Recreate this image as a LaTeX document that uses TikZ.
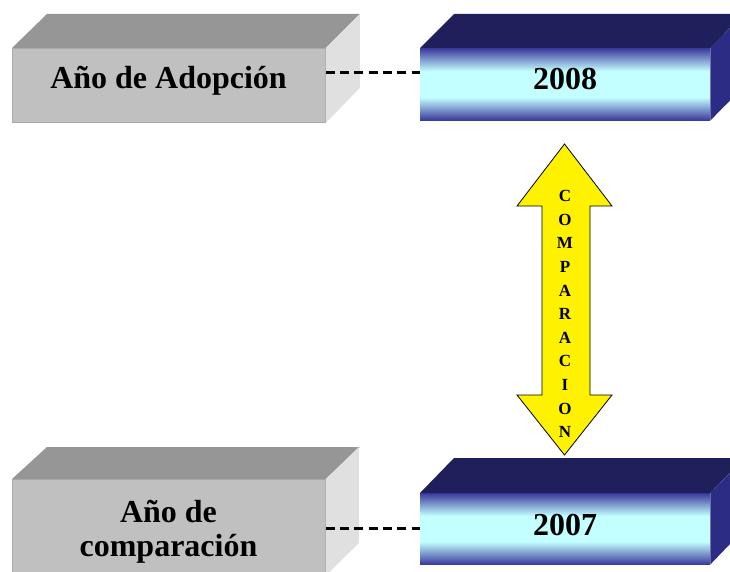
\documentclass[tikz,border=0pt]{standalone}
\usepackage{fontspec}
\setmainfont{Liberation Serif}
\usetikzlibrary{positioning,calc}

\definecolor{boxgrey}{RGB}{192,192,192}
\definecolor{boxgreyline}{RGB}{170,170,170}
\definecolor{topgrey}{RGB}{150,150,150}
\definecolor{sidegrey}{RGB}{224,224,224}
\definecolor{yrblue}{RGB}{58,58,158}
\definecolor{yrcyan}{RGB}{196,255,255}
\definecolor{topnavy}{RGB}{31,31,92}
\definecolor{sidenavy}{RGB}{44,44,132}

\pgfdeclareverticalshading{yearshade}{100bp}{color(0bp)=(yrblue); color(25bp)=(yrblue); color(41bp)=(yrcyan); color(59bp)=(yrcyan); color(75bp)=(yrblue); color(100bp)=(yrblue)}

\tikzset{
  greyfront/.style={rectangle, fill=boxgrey, draw=boxgreyline, line width=0.8pt, inner sep=0pt},
  yearfront/.style={rectangle, shading=yearshade, inner sep=0pt},
  boxlabel/.style={font=\bfseries\fontsize{32}{34.5}\selectfont, inner sep=0pt, align=center},
  link/.style={line width=2.6pt, dash pattern=on 9pt off 5.3pt},
  cmparrow/.style={fill=yellow, draw=black, line width=0.8pt, line join=miter},
}

\begin{document}
\begin{tikzpicture}[x=1pt, y=-1pt]
    \clip (0,0) rectangle (730,572);
    \useasboundingbox (0,0) rectangle (730,572);

    % Grey boxes (left)
    \node[greyfront, minimum width=313pt, minimum height=74pt, anchor=north west] (adop) at (12,48) {};
    \fill[topgrey] (adop.north west) -- ++(35,-34) -- ++(313,0) -- (adop.north east) -- cycle;
    \fill[sidegrey] (adop.north east) -- ++(34,-34) -- ++(0,74) -- (adop.south east) -- cycle;
    \node[boxlabel, anchor=base] (adoptxt) at (168.5,89) {Año de Adopción};

    \node[greyfront, minimum width=313pt, minimum height=96pt, anchor=north west] (comp) at (12,479) {};
    \fill[topgrey] (comp.north west) -- ++(35,-32) -- ++(313,0) -- (comp.north east) -- cycle;
    \fill[sidegrey] (comp.north east) -- ++(33,-32) -- ++(0,96) -- (comp.south east) -- cycle;
    \node[boxlabel, anchor=base] (comptxt) at (168.5,556.5) {Año de\\comparación};

    % Year boxes (right)
    \node[yearfront, minimum width=290pt, minimum height=72pt, anchor=north west] (y08) at (420,48) {};
    \fill[topnavy] (y08.north west) -- ++(34,-34) -- ++(290,0) -- (y08.north east) -- cycle;
    \fill[sidenavy] (y08.north east) -- ++(34,-34) -- ++(0,72) -- (y08.south east) -- cycle;
    \node[boxlabel, anchor=base] (y08txt) at (565,90) {2008};

    \node[yearfront, minimum width=290pt, minimum height=71pt, anchor=north west] (y07) at (420,493) {};
    \fill[topnavy] (y07.north west) -- ++(34,-35) -- ++(290,0) -- (y07.north east) -- cycle;
    \fill[sidenavy] (y07.north east) -- ++(34,-35) -- ++(0,71) -- (y07.south east) -- cycle;
    \node[boxlabel, anchor=base] (y07txt) at (565,535) {2007};

    % Dashed links
    \draw[link] ([yshift=13pt]adop.east) -- ([yshift=13pt]adop.east -| y08.west);
    \draw[link] (comp.east |- y07.west) -- (y07.west);

    % Comparison arrow
    \draw[cmparrow] (564.5,144) -- (612,206) -- (590,206) -- (590,395) -- (612,395)
        -- (564.5,455) -- (517,395) -- (542,395) -- (542,206) -- (517,206) -- cycle;
    \node[font=\bfseries\fontsize{17}{23.6}\selectfont, inner sep=0pt, align=center] (cmptxt) at (565,314)
        {C\\O\\M\\P\\A\\R\\A\\C\\I\\O\\N};
\end{tikzpicture}
\end{document}
